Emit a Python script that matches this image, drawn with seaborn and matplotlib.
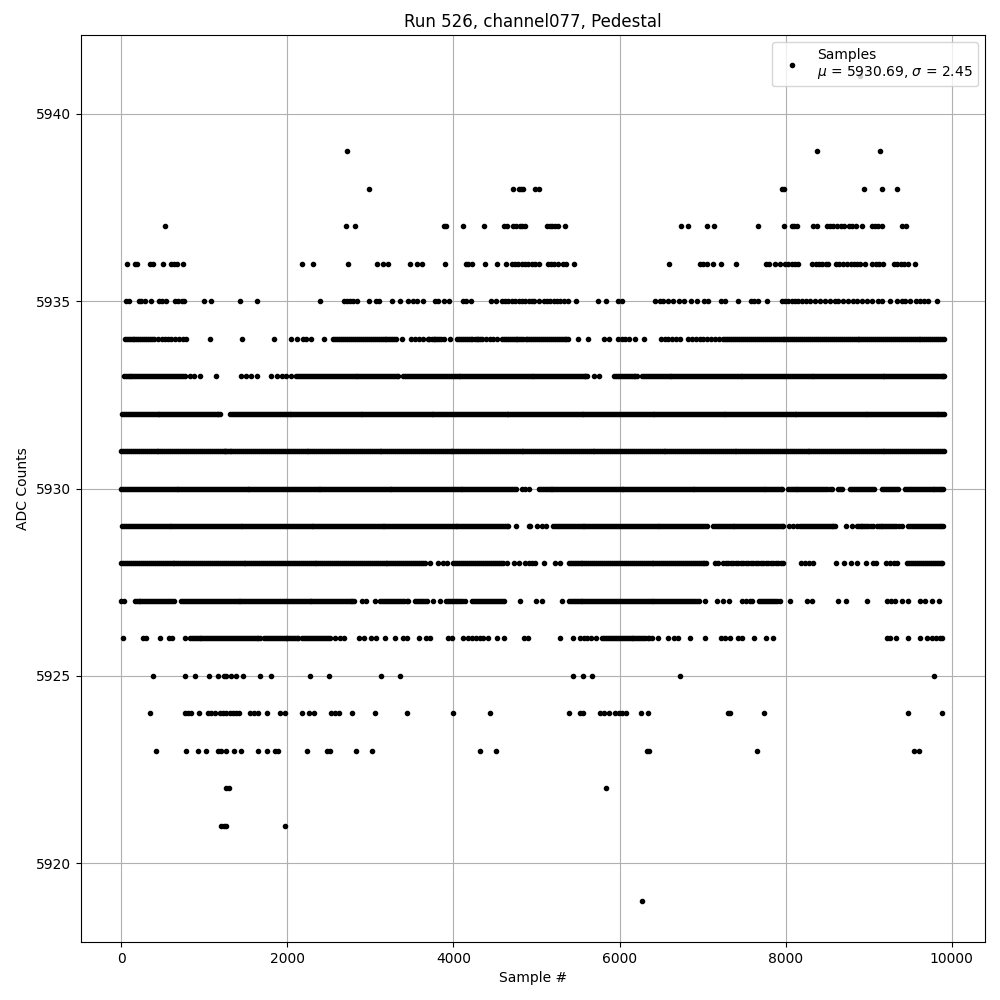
import matplotlib
matplotlib.use("Agg")
import matplotlib.pyplot as plt
import seaborn as sns
import pandas as pd

# sample numbers, one list per ADC level
s5941 = [8895]
s5939 = [2721, 8381, 9140]
s5938 = [2987, 4712, 4788, 4812, 4836, 4982, 5026, 7956, 7984, 8946, 9162, 9343]
s5937 = [527, 2710, 2818, 3884, 3912, 4121, 4374, 4611, 4643, 4716, 4748, 4796, 4828, 4860,
         5126, 5158, 5190, 5222, 5254, 5343, 6745, 6830, 7058, 7134, 7667, 7984, 8072, 8104, 8140,
         8325, 8373, 8493, 8533, 8573, 8621, 8661, 8701, 8757, 8797, 8846, 8922, 9034, 9074, 9114,
         9154, 9403, 9443]
s5936 = [68, 161, 193, 342, 382, 502, 603, 639, 671, 744, 2179, 2312, 2734, 3083, 3156, 3216,
         3481, 3566, 3626, 3903, 4149, 4181, 4221, 4386, 4519, 4627, 4700, 4740, 4780, 4820, 4860,
         4900, 4946, 4986, 5026, 5134, 5174, 5214, 5254, 5319, 5359, 5447, 6601, 6970, 7010, 7050,
         7130, 7226, 7407, 7760, 7796, 7868, 7932, 7992, 8032, 8072, 8112, 8152, 8321, 8361, 8401,
         8441, 8481, 8513, 8605, 8645, 8685, 8741, 8781, 8821, 8861, 8901, 8950, 9042, 9082, 9122,
         9174, 9302, 9343, 9383, 9423, 9471, 9559]
s5935 = [52, 88, 209, 241, 281, 358, 450, 490, 539, 647, 688, 728, 760, 997, 1081, 1431, 1636,
         2396, 2685, 2717, 2754, 2794, 2834, 2983, 3067, 3107, 3264, 3361, 3457, 3517, 3558, 3638,
         3779, 3815, 3887, 3948, 4121, 4153, 4209, 4454, 4510, 4583, 4623, 4663, 4703, 4744, 4784,
         4824, 4864, 4905, 4946, 4974, 5026, 5086, 5126, 5166, 5206, 5246, 5286, 5327, 5379, 5471,
         5735, 5832, 5980, 6028, 6421, 6489, 6529, 6581, 6641, 6721, 6782, 6866, 6930, 7022, 7070,
         7222, 7270, 7431, 7583, 7623, 7663, 7780, 7952, 7992, 8032, 8072, 8112, 8152, 8192, 8240,
         8293, 8353, 8413, 8473, 8533, 8593, 8633, 8685, 8753, 8814, 8862, 8914, 8974, 9034, 9114,
         9154, 9254, 9335, 9395, 9435, 9495, 9575, 9615, 9663, 9715, 9824]
s5934 = [40, 88, 137, 181, 232, 279, 326, 368, 400, 442, 491, 533, 563, 603, 651, 694, 742, 776,
         1069, 1455, 1841, 2046, 2118, 2191, 2223, 2287, 2444, 2553, 2601, 2648, 2699, 2741, 2793,
         2838, 2889, 2934, 2981, 3027, 3078, 3122, 3171, 3218, 3266, 3311, 3376, 3485, 3533, 3581,
         3630, 3690, 3739, 3784, 3832, 3881, 3960, 4040, 4088, 4136, 4183, 4229, 4278, 4322, 4342,
         4391, 4438, 4482, 4522, 4583, 4629, 4677, 4726, 4771, 4819, 4868, 4912, 4961, 5008, 5057,
         5103, 5151, 5198, 5247, 5293, 5341, 5379, 5495, 5623, 5816, 5876, 5980, 6024, 6068, 6108,
         6188, 6289, 6505, 6547, 6589, 6629, 6681, 6730, 6822, 6871, 6918, 6966, 7010, 7050, 7101,
         7148, 7202, 7250, 7298, 7344, 7392, 7441, 7486, 7535, 7583, 7629, 7678, 7724, 7772, 7821,
         7866, 7914, 7963, 8009, 8057, 8104, 8153, 8199, 8247, 8296, 8341, 8389, 8438, 8484, 8532,
         8581, 8627, 8674, 8723, 8769, 8817, 8866, 8912, 8959, 9008, 9054, 9101, 9149, 9196, 9244,
         9291, 9339, 9386, 9433, 9481, 9529, 9576, 9623, 9671, 9718, 9766, 9813, 9861, 9904]
s5933 = [30, 77, 124, 172, 219, 267, 314, 361, 409, 456, 504, 551, 598, 646, 693, 741, 770, 824,
         876, 945, 1142, 1443, 1507, 1568, 1636, 1809, 1881, 1930, 1990, 2050, 2110, 2157, 2206,
         2252, 2301, 2348, 2394, 2443, 2489, 2538, 2586, 2631, 2679, 2727, 2774, 2823, 2868, 2917,
         2964, 3012, 3059, 3107, 3154, 3201, 3249, 3296, 3337, 3397, 3444, 3493, 3539, 3588, 3634,
         3683, 3729, 3778, 3824, 3872, 3921, 3967, 4014, 4062, 4109, 4157, 4204, 4252, 4299, 4347,
         4394, 4442, 4489, 4536, 4584, 4631, 4679, 4726, 4774, 4821, 4869, 4916, 4963, 5011, 5058,
         5106, 5153, 5201, 5248, 5296, 5343, 5391, 5438, 5486, 5533, 5581, 5607, 5687, 5747, 5936,
         5983, 6031, 6078, 6126, 6173, 6208, 6269, 6317, 6364, 6412, 6459, 6507, 6554, 6602, 6649,
         6697, 6744, 6792, 6839, 6887, 6934, 6982, 7029, 7077, 7124, 7172, 7219, 7267, 7314, 7362,
         7409, 7457, 7504, 7552, 7599, 7647, 7694, 7742, 7789, 7837, 7884, 7932, 7979, 8027, 8074,
         8122, 8169, 8217, 8264, 8312, 8359, 8407, 8454, 8502, 8549, 8597, 8644, 8692, 8739, 8787,
         8834, 8882, 8929, 8977, 9024, 9072, 9119, 9167, 9214, 9262, 9309, 9357, 9404, 9452, 9499,
         9547, 9594, 9642, 9689, 9737, 9784, 9832, 9879, 9910]
s5932 = [12, 58, 107, 153, 201, 249, 294, 343, 389, 438, 484, 533, 579, 627, 674, 722, 769, 817,
         864, 912, 959, 1007, 1054, 1102, 1149, 1186, 1315, 1362, 1409, 1457, 1504, 1552, 1599,
         1647, 1694, 1742, 1789, 1837, 1884, 1932, 1979, 2027, 2074, 2122, 2169, 2217, 2264, 2312,
         2359, 2407, 2454, 2502, 2549, 2597, 2644, 2692, 2739, 2787, 2834, 2882, 2929, 2977, 3024,
         3072, 3119, 3167, 3214, 3262, 3309, 3357, 3404, 3452, 3499, 3547, 3594, 3642, 3689, 3737,
         3784, 3832, 3879, 3927, 3974, 4022, 4069, 4117, 4164, 4212, 4259, 4307, 4354, 4402, 4449,
         4497, 4544, 4592, 4639, 4687, 4734, 4782, 4829, 4877, 4924, 4972, 5019, 5067, 5114, 5162,
         5209, 5257, 5304, 5352, 5399, 5447, 5494, 5542, 5589, 5637, 5684, 5732, 5779, 5827, 5874,
         5922, 5969, 6017, 6064, 6112, 6159, 6207, 6254, 6302, 6349, 6397, 6444, 6492, 6539, 6587,
         6634, 6682, 6729, 6777, 6824, 6872, 6919, 6967, 7014, 7062, 7109, 7157, 7204, 7252, 7299,
         7347, 7394, 7442, 7489, 7537, 7584, 7632, 7679, 7727, 7774, 7822, 7869, 7917, 7964, 8012,
         8059, 8107, 8154, 8202, 8249, 8297, 8344, 8392, 8439, 8487, 8534, 8582, 8629, 8677, 8724,
         8772, 8819, 8867, 8914, 8962, 9009, 9057, 9104, 9152, 9199, 9247, 9294, 9342, 9389, 9437,
         9484, 9532, 9579, 9627, 9674, 9722, 9769, 9817, 9864, 9910]
s5931 = [0, 46, 95, 141, 189, 237, 282, 331, 377, 426, 472, 521, 567, 615, 662, 710, 757, 805,
         852, 900, 947, 995, 1042, 1090, 1137, 1185, 1232, 1262, 1305, 1352, 1400, 1447, 1495, 1542,
         1590, 1637, 1685, 1732, 1780, 1827, 1875, 1922, 1970, 2017, 2065, 2112, 2160, 2207, 2255,
         2302, 2350, 2397, 2445, 2492, 2540, 2587, 2635, 2682, 2730, 2777, 2825, 2872, 2920, 2967,
         3015, 3062, 3110, 3157, 3205, 3252, 3300, 3347, 3395, 3442, 3490, 3537, 3585, 3632, 3680,
         3727, 3775, 3822, 3870, 3917, 3965, 4012, 4060, 4107, 4155, 4202, 4250, 4297, 4345, 4392,
         4440, 4487, 4535, 4582, 4630, 4677, 4725, 4772, 4820, 4867, 4915, 4962, 5010, 5057, 5105,
         5152, 5200, 5247, 5295, 5342, 5390, 5437, 5485, 5532, 5580, 5627, 5675, 5722, 5770, 5817,
         5865, 5912, 5960, 6007, 6055, 6102, 6150, 6197, 6245, 6292, 6340, 6387, 6435, 6482, 6530,
         6577, 6625, 6672, 6720, 6767, 6815, 6862, 6910, 6957, 7005, 7052, 7100, 7147, 7195, 7242,
         7290, 7337, 7385, 7432, 7480, 7527, 7575, 7622, 7670, 7717, 7765, 7812, 7860, 7907, 7955,
         8002, 8050, 8097, 8145, 8192, 8240, 8287, 8335, 8382, 8430, 8477, 8525, 8572, 8620, 8667,
         8715, 8762, 8810, 8857, 8905, 8952, 9000, 9047, 9095, 9142, 9190, 9237, 9285, 9332, 9380,
         9427, 9475, 9522, 9570, 9617, 9665, 9712, 9760, 9807, 9855, 9910]
s5930 = [0, 48, 96, 143, 191, 238, 286, 333, 381, 428, 476, 523, 571, 618, 666, 713, 761, 808,
         856, 903, 951, 998, 1046, 1093, 1141, 1188, 1236, 1283, 1331, 1378, 1426, 1473, 1521, 1568,
         1616, 1663, 1711, 1758, 1806, 1853, 1901, 1948, 1996, 2043, 2091, 2138, 2186, 2233, 2281,
         2328, 2376, 2423, 2471, 2518, 2566, 2613, 2661, 2708, 2756, 2803, 2851, 2898, 2946, 2993,
         3041, 3088, 3136, 3183, 3231, 3278, 3326, 3373, 3421, 3468, 3516, 3563, 3611, 3658, 3706,
         3753, 3801, 3848, 3896, 3943, 3991, 4038, 4086, 4133, 4181, 4228, 4276, 4323, 4371, 4418,
         4466, 4513, 4561, 4608, 4656, 4703, 4748, 4826, 4866, 4906, 5026, 5074, 5121, 5169, 5216,
         5264, 5311, 5359, 5406, 5454, 5501, 5549, 5596, 5644, 5691, 5739, 5786, 5834, 5881, 5929,
         5976, 6024, 6071, 6119, 6166, 6214, 6261, 6309, 6356, 6404, 6451, 6499, 6546, 6594, 6641,
         6689, 6736, 6784, 6831, 6879, 6926, 6974, 7021, 7069, 7116, 7164, 7211, 7259, 7306, 7354,
         7401, 7449, 7496, 7544, 7591, 7639, 7686, 7734, 7781, 7829, 7876, 7924, 7952, 8024, 8071,
         8119, 8166, 8214, 8261, 8309, 8356, 8404, 8451, 8499, 8561, 8625, 8681, 8773, 8821, 8868,
         8916, 8963, 9011, 9066, 9158, 9206, 9253, 9301, 9355, 9435, 9483, 9530, 9578, 9625, 9673,
         9720, 9768, 9815, 9863, 9890]
s5929 = [12, 59, 107, 154, 202, 249, 297, 344, 392, 439, 487, 534, 582, 629, 677, 724, 772, 819,
         867, 914, 962, 1009, 1057, 1104, 1152, 1199, 1247, 1294, 1342, 1389, 1437, 1484, 1532, 1579,
         1627, 1674, 1722, 1769, 1817, 1864, 1912, 1959, 2007, 2054, 2102, 2149, 2197, 2244, 2292,
         2339, 2387, 2434, 2482, 2529, 2577, 2624, 2672, 2719, 2767, 2814, 2862, 2909, 2957, 3004,
         3052, 3099, 3147, 3194, 3242, 3289, 3337, 3384, 3432, 3479, 3527, 3574, 3622, 3669, 3717,
         3764, 3812, 3859, 3907, 3954, 4002, 4049, 4097, 4144, 4192, 4239, 4287, 4334, 4382, 4429,
         4477, 4524, 4572, 4619, 4660, 4748, 4905, 4918, 5006, 5062, 5118, 5198, 5246, 5293, 5341,
         5388, 5436, 5483, 5531, 5578, 5626, 5673, 5721, 5768, 5816, 5863, 5911, 5958, 6006, 6053,
         6101, 6148, 6196, 6243, 6291, 6338, 6386, 6433, 6481, 6528, 6576, 6623, 6671, 6718, 6766,
         6813, 6861, 6908, 6956, 7003, 7050, 7122, 7170, 7217, 7265, 7312, 7360, 7407, 7455, 7502,
         7550, 7597, 7645, 7692, 7740, 7787, 7835, 7882, 7930, 7972, 8044, 8084, 8140, 8172, 8220,
         8267, 8315, 8362, 8410, 8457, 8505, 8552, 8593, 8721, 8794, 8854, 8902, 8949, 8997, 9054,
         9094, 9142, 9189, 9237, 9284, 9332, 9395, 9475, 9523, 9570, 9618, 9665, 9713, 9760, 9808,
         9855, 9896]
s5928 = [0, 48, 95, 143, 190, 238, 285, 333, 380, 428, 475, 523, 570, 618, 665, 713, 760, 808,
         855, 903, 950, 998, 1045, 1093, 1140, 1188, 1235, 1283, 1330, 1378, 1425, 1473, 1520, 1568,
         1615, 1663, 1710, 1758, 1805, 1853, 1900, 1948, 1995, 2043, 2090, 2138, 2185, 2233, 2280,
         2328, 2375, 2423, 2470, 2518, 2565, 2613, 2660, 2708, 2755, 2803, 2850, 2898, 2945, 2993,
         3040, 3088, 3135, 3183, 3230, 3278, 3325, 3373, 3420, 3468, 3515, 3563, 3610, 3658, 3718,
         3819, 3879, 3928, 4000, 4048, 4095, 4143, 4190, 4238, 4285, 4333, 4380, 4428, 4475, 4523,
         4570, 4643, 4724, 4784, 4864, 4905, 4946, 4986, 5090, 5226, 5279, 5387, 5435, 5482, 5530,
         5577, 5625, 5672, 5720, 5767, 5815, 5862, 5910, 5957, 6005, 6052, 6100, 6147, 6195, 6242,
         6290, 6337, 6385, 6432, 6480, 6527, 6575, 6622, 6670, 6717, 6765, 6812, 6860, 6907, 6955,
         7002, 7042, 7150, 7190, 7250, 7310, 7370, 7430, 7490, 7550, 7610, 7670, 7730, 7790, 7850,
         7910, 7970, 8185, 8232, 8281, 8333, 8601, 8706, 8786, 8862, 8970, 9054, 9086, 9214, 9262,
         9309, 9343, 9463, 9511, 9558, 9606, 9653, 9701, 9748, 9796, 9843, 9888]
s5927 = [0, 28, 161, 209, 256, 304, 351, 399, 446, 494, 541, 589, 631, 724, 771, 819, 866, 914,
         961, 1009, 1056, 1104, 1151, 1199, 1246, 1294, 1341, 1389, 1436, 1484, 1531, 1579, 1626,
         1674, 1721, 1769, 1816, 1864, 1911, 1959, 2006, 2054, 2101, 2149, 2196, 2244, 2291, 2339,
         2386, 2434, 2481, 2529, 2576, 2624, 2671, 2719, 2766, 2802, 2894, 2950, 3059, 3115, 3163,
         3210, 3258, 3305, 3353, 3400, 3457, 3538, 3586, 3633, 3681, 3751, 3843, 3912, 3960, 4007,
         4055, 4100, 4137, 4229, 4277, 4324, 4372, 4419, 4467, 4514, 4562, 4603, 4796, 4998, 5066,
         5303, 5387, 5435, 5482, 5530, 5577, 5625, 5672, 5720, 5767, 5815, 5862, 5910, 5957, 6005,
         6052, 6100, 6147, 6195, 6242, 6290, 6337, 6385, 6432, 6480, 6527, 6575, 6622, 6670, 6717,
         6765, 6812, 6860, 6907, 6955, 7030, 7178, 7250, 7322, 7471, 7519, 7566, 7591, 7679, 7727,
         7774, 7822, 7869, 7932, 8056, 8261, 8313, 8633, 8725, 8982, 9226, 9274, 9315, 9403, 9475,
         9615, 9675, 9767, 9848]
s5926 = [20, 261, 301, 462, 571, 615, 768, 824, 871, 919, 966, 1014, 1061, 1109, 1156, 1204, 1251,
         1299, 1346, 1394, 1441, 1489, 1536, 1584, 1631, 1668, 1717, 1765, 1812, 1860, 1907, 1955,
         2002, 2050, 2097, 2131, 2179, 2227, 2274, 2322, 2369, 2417, 2464, 2512, 2573, 2633, 2685,
         2862, 2923, 3003, 3067, 3180, 3296, 3397, 3437, 3590, 3666, 3718, 3940, 3980, 4121, 4181,
         4229, 4276, 4324, 4362, 4414, 4523, 4603, 4844, 4898, 5279, 5435, 5519, 5567, 5614, 5662,
         5719, 5788, 5836, 5883, 5931, 5978, 6026, 6073, 6121, 6168, 6216, 6263, 6311, 6358, 6389,
         6469, 6589, 6657, 6709, 6850, 7030, 7222, 7270, 7331, 7431, 7471, 7623, 7760, 7852, 9226,
         9262, 9331, 9475, 9615, 9703, 9767, 9816, 9864, 9888]
s5925 = [382, 768, 888, 1057, 1166, 1234, 1258, 1323, 1383, 1467, 1672, 1805, 2275, 2504, 3131,
         3361, 5435, 5555, 5663, 6733, 9788]
s5924 = [346, 768, 808, 844, 937, 1045, 1085, 1126, 1186, 1226, 1266, 1306, 1347, 1387, 1419,
         1556, 1596, 1648, 1761, 1914, 1974, 2179, 2263, 2320, 2521, 2573, 2617, 2774, 3059, 3445,
         4000, 4446, 5387, 5527, 5555, 5760, 5808, 5868, 5940, 5988, 6028, 6080, 6257, 6337, 7311,
         7331, 7743, 9475, 9884]
s5923 = [418, 780, 925, 1021, 1166, 1206, 1258, 1363, 1443, 1648, 1757, 1849, 1889, 2239, 2480,
         2512, 2830, 3023, 4325, 4507, 6329, 6357, 7659, 9551, 9611]
s5922 = [1266, 1294, 5832]
s5921 = [1206, 1234, 1258, 1978]
s5919 = [6265]

# more samples inside the solid runs, where single dots can't be told apart
fill5934 = [64, 112, 159, 207, 255, 303, 347, 2577, 2625, 2673, 2720, 2767, 2815, 2864, 2911,
            2958, 3004, 3052, 3100, 3147, 3194, 3242, 3289, 3709, 3761, 3808, 3856, 4064, 4112,
            4160, 4206, 4254, 4300, 4607, 4653, 4701, 4749, 4795, 4843, 4890, 4937, 4985, 5032,
            5080, 5127, 5175, 5222, 5270, 5317, 5360, 7274, 7321, 7368, 7416, 7464, 7510, 7559,
            7606, 7653, 7701, 7748, 7797, 7843, 7890, 7938, 7986, 8033, 8080, 8128, 8176, 8223,
            8271, 8318, 8365, 8413, 8461, 8508, 8556, 8604, 8650, 8698, 8746, 8793, 8841, 8889,
            8935, 8983, 9031, 9078, 9125, 9172, 9220, 9268, 9315, 9362, 9410, 9457, 9505, 9552,
            9600, 9647, 9694, 9742, 9790, 9837, 9883]
fill5933 = [54, 100, 148, 195, 243, 290, 338, 385, 432, 480, 527, 575, 622, 669, 717, 2133, 2181,
            2229, 2276, 2324, 2371, 2418, 2466, 2513, 2562, 2608, 2655, 2703, 2750, 2798, 2845,
            2892, 2940, 2988, 3035, 3083, 3130, 3177, 3225, 3272, 3318, 3420, 3468, 3516, 3563,
            3611, 3658, 3706, 3753, 3801, 3848, 3896, 3943, 3990, 4038, 4085, 4133, 4180, 4228,
            4275, 4323, 4370, 4418, 4465, 4512, 4560, 4607, 4655, 4702, 4750, 4797, 4845, 4892,
            4940, 4987, 5034, 5082, 5129, 5177, 5224, 5272, 5319, 5367, 5414, 5462, 5509, 5557,
            5590, 5960, 6007, 6054, 6102, 6150, 6190, 6293, 6340, 6388, 6435, 6483, 6530, 6578,
            6625, 6673, 6720, 6768, 6815, 6863, 6910, 6958, 7005, 7053, 7100, 7148, 7195, 7243,
            7290, 7338, 7385, 7433, 7480, 7528, 7575, 7623, 7670, 7718, 7765, 7813, 7860, 7908,
            7955, 8003, 8050, 8098, 8145, 8193, 8240, 8288, 8335, 8383, 8430, 8478, 8525, 8573,
            8620, 8668, 8715, 8763, 8810, 8858, 8905, 8953, 9000, 9048, 9095, 9143, 9190, 9238,
            9285, 9333, 9380, 9428, 9475, 9523, 9570, 9618, 9665, 9713, 9760, 9808, 9855, 9895]
fill5932 = [35, 82, 130, 177, 225, 271, 318, 366, 413, 461, 508, 556, 603, 650, 698, 745, 793,
            840, 888, 935, 983, 1030, 1078, 1125, 1170, 1338, 1385, 1433, 1480, 1528, 1575, 1623,
            1670, 1718, 1765, 1813, 1860, 1908, 1955, 2003, 2050, 2098, 2145, 2193, 2240, 2288,
            2335, 2383, 2430, 2478, 2525, 2573, 2620, 2668, 2715, 2763, 2810, 2858, 2905, 2953,
            3000, 3048, 3095, 3143, 3190, 3238, 3285, 3333, 3380, 3428, 3475, 3523, 3570, 3618,
            3665, 3713, 3760, 3808, 3855, 3903, 3950, 3998, 4045, 4093, 4140, 4188, 4235, 4283,
            4330, 4378, 4425, 4473, 4520, 4568, 4615, 4663, 4710, 4758, 4805, 4853, 4900, 4948,
            4995, 5043, 5090, 5138, 5185, 5233, 5280, 5328, 5375, 5423, 5470, 5518, 5565, 5613,
            5660, 5708, 5755, 5803, 5850, 5898, 5945, 5993, 6040, 6088, 6135, 6183, 6230, 6278,
            6325, 6373, 6420, 6468, 6515, 6563, 6610, 6658, 6705, 6753, 6800, 6848, 6895, 6943,
            6990, 7038, 7085, 7133, 7180, 7228, 7275, 7323, 7370, 7418, 7465, 7513, 7560, 7608,
            7655, 7703, 7750, 7798, 7845, 7893, 7940, 7988, 8035, 8083, 8130, 8178, 8225, 8273,
            8320, 8368, 8415, 8463, 8510, 8558, 8605, 8653, 8700, 8748, 8795, 8843, 8890, 8938,
            8985, 9033, 9080, 9128, 9175, 9223, 9270, 9318, 9365, 9413, 9460, 9508, 9555, 9603,
            9650, 9698, 9745, 9793, 9840, 9888]
fill5931 = [23, 70, 118, 165, 213, 259, 306, 354, 401, 449, 496, 544, 591, 638, 686, 733, 781,
            828, 876, 923, 971, 1018, 1066, 1113, 1161, 1208, 1247, 1284, 1328, 1376, 1423, 1471,
            1518, 1566, 1613, 1661, 1708, 1756, 1803, 1851, 1898, 1946, 1993, 2041, 2088, 2136,
            2183, 2231, 2278, 2326, 2373, 2421, 2468, 2516, 2563, 2611, 2658, 2706, 2753, 2801,
            2848, 2896, 2943, 2991, 3038, 3086, 3133, 3181, 3228, 3276, 3323, 3371, 3418, 3466,
            3513, 3561, 3608, 3656, 3703, 3751, 3798, 3846, 3893, 3941, 3988, 4036, 4083, 4131,
            4178, 4226, 4273, 4321, 4368, 4416, 4463, 4511, 4558, 4606, 4653, 4701, 4748, 4796,
            4843, 4891, 4938, 4986, 5033, 5081, 5128, 5176, 5223, 5271, 5318, 5366, 5413, 5461,
            5508, 5556, 5603, 5651, 5698, 5746, 5793, 5841, 5888, 5936, 5983, 6031, 6078, 6126,
            6173, 6221, 6268, 6316, 6363, 6411, 6458, 6506, 6553, 6601, 6648, 6696, 6743, 6791,
            6838, 6886, 6933, 6981, 7028, 7076, 7123, 7171, 7218, 7266, 7313, 7361, 7408, 7456,
            7503, 7551, 7598, 7646, 7693, 7741, 7788, 7836, 7883, 7931, 7978, 8026, 8073, 8121,
            8168, 8216, 8263, 8311, 8358, 8406, 8453, 8501, 8548, 8596, 8643, 8691, 8738, 8786,
            8833, 8881, 8928, 8976, 9023, 9071, 9118, 9166, 9213, 9261, 9308, 9356, 9403, 9451,
            9498, 9546, 9593, 9641, 9688, 9736, 9783, 9831, 9883]
fill5930 = [24, 72, 119, 167, 214, 262, 309, 357, 404, 452, 499, 547, 594, 642, 689, 737, 784,
            832, 879, 927, 974, 1022, 1069, 1117, 1164, 1212, 1259, 1307, 1354, 1402, 1449, 1497,
            1544, 1592, 1639, 1687, 1734, 1782, 1829, 1877, 1924, 1972, 2019, 2067, 2114, 2162,
            2209, 2257, 2304, 2352, 2399, 2447, 2494, 2542, 2589, 2637, 2684, 2732, 2779, 2827,
            2874, 2922, 2969, 3017, 3064, 3112, 3159, 3207, 3254, 3302, 3349, 3397, 3444, 3492,
            3539, 3587, 3634, 3682, 3729, 3777, 3824, 3872, 3919, 3967, 4014, 4062, 4109, 4157,
            4204, 4252, 4299, 4347, 4394, 4442, 4489, 4537, 4584, 4632, 4679, 4725, 5050, 5097,
            5145, 5192, 5240, 5287, 5335, 5382, 5430, 5477, 5525, 5572, 5620, 5667, 5715, 5762,
            5810, 5857, 5905, 5952, 6000, 6047, 6095, 6142, 6190, 6237, 6285, 6332, 6380, 6427,
            6475, 6522, 6570, 6617, 6665, 6712, 6760, 6807, 6855, 6902, 6950, 6997, 7045, 7092,
            7140, 7187, 7235, 7282, 7330, 7377, 7425, 7472, 7520, 7567, 7615, 7662, 7710, 7757,
            7805, 7852, 7900, 7940, 8047, 8095, 8142, 8190, 8237, 8285, 8332, 8380, 8427, 8475,
            8530, 8653, 8797, 8844, 8892, 8939, 8987, 9040, 9182, 9229, 9277, 9328, 9459, 9506,
            9554, 9601, 9649, 9696, 9744, 9791, 9839, 9876]
fill5929 = [35, 83, 130, 178, 225, 273, 320, 368, 415, 463, 510, 558, 605, 653, 700, 748, 795,
            843, 890, 938, 985, 1033, 1080, 1128, 1175, 1223, 1270, 1318, 1365, 1413, 1460, 1508,
            1555, 1603, 1650, 1698, 1745, 1793, 1840, 1888, 1935, 1983, 2030, 2078, 2125, 2173,
            2220, 2268, 2315, 2363, 2410, 2458, 2505, 2553, 2600, 2648, 2695, 2743, 2790, 2838,
            2885, 2933, 2980, 3028, 3075, 3123, 3170, 3218, 3265, 3313, 3360, 3408, 3455, 3503,
            3550, 3598, 3645, 3693, 3740, 3788, 3835, 3883, 3930, 3978, 4025, 4073, 4120, 4168,
            4215, 4263, 4310, 4358, 4405, 4453, 4500, 4548, 4595, 4640, 5222, 5269, 5317, 5364,
            5412, 5459, 5507, 5554, 5602, 5649, 5697, 5744, 5792, 5839, 5887, 5934, 5982, 6029,
            6077, 6124, 6172, 6219, 6267, 6314, 6362, 6409, 6457, 6504, 6552, 6599, 6647, 6694,
            6742, 6789, 6837, 6884, 6932, 6979, 7030, 7146, 7193, 7241, 7288, 7336, 7383, 7431,
            7478, 7526, 7573, 7621, 7668, 7716, 7763, 7811, 7858, 7906, 7950, 8196, 8243, 8291,
            8338, 8386, 8433, 8481, 8528, 8570, 8878, 8925, 8973, 9030, 9118, 9165, 9213, 9260,
            9308, 9370, 9499, 9546, 9594, 9641, 9689, 9736, 9784, 9831, 9875]
fill5928 = [24, 71, 119, 166, 214, 261, 309, 356, 404, 451, 499, 546, 594, 641, 689, 736, 784,
            831, 879, 926, 974, 1021, 1069, 1116, 1164, 1211, 1259, 1306, 1354, 1401, 1449, 1496,
            1544, 1591, 1639, 1686, 1734, 1781, 1829, 1876, 1924, 1971, 2019, 2066, 2114, 2161,
            2209, 2256, 2304, 2351, 2399, 2446, 2494, 2541, 2589, 2636, 2684, 2731, 2779, 2826,
            2874, 2921, 2969, 3016, 3064, 3111, 3159, 3206, 3254, 3301, 3349, 3396, 3444, 3491,
            3539, 3586, 3634, 4024, 4072, 4119, 4167, 4214, 4262, 4309, 4357, 4404, 4452, 4499,
            4547, 4600, 5411, 5458, 5506, 5553, 5601, 5648, 5696, 5743, 5791, 5838, 5886, 5933,
            5981, 6028, 6076, 6123, 6171, 6218, 6266, 6313, 6361, 6408, 6456, 6503, 6551, 6598,
            6646, 6693, 6741, 6788, 6836, 6883, 6931, 6978, 7020, 7280, 7340, 7400, 7460, 7520,
            7580, 7640, 7700, 7760, 7820, 7880, 7940, 9487, 9534, 9582, 9629, 9677, 9724, 9772,
            9819, 9866]
fill5927 = [185, 232, 280, 327, 375, 422, 470, 517, 565, 610, 748, 795, 843, 890, 938, 985, 1033,
            1080, 1128, 1175, 1223, 1270, 1318, 1365, 1413, 1460, 1508, 1555, 1603, 1650, 1698,
            1745, 1793, 1840, 1888, 1935, 1983, 2030, 2078, 2125, 2173, 2220, 2268, 2315, 2363,
            2410, 2458, 2505, 2553, 2600, 2648, 2695, 2743, 2780, 3139, 3187, 3234, 3282, 3329,
            3377, 3435, 3562, 3610, 3660, 3936, 3984, 4031, 4080, 4253, 4300, 4348, 4395, 4443,
            4490, 4538, 4590, 5411, 5458, 5506, 5553, 5601, 5648, 5696, 5743, 5791, 5838, 5886,
            5933, 5981, 6028, 6076, 6123, 6171, 6218, 6266, 6313, 6361, 6408, 6456, 6503, 6551,
            6598, 6646, 6693, 6741, 6788, 6836, 6883, 6930, 7703, 7750, 7798, 7845, 7900]
fill5926 = [848, 895, 943, 990, 1038, 1085, 1133, 1180, 1228, 1275, 1323, 1370, 1418, 1465, 1513,
            1560, 1608, 1650, 1741, 1789, 1836, 1884, 1931, 1979, 2026, 2074, 2120, 2203, 2251,
            2298, 2346, 2393, 2441, 2490, 5812, 5860, 5907, 5955, 6002, 6050, 6097, 6145, 6192,
            6240, 6287, 6340]

levels = {5941: s5941, 5939: s5939, 5938: s5938, 5937: s5937, 5936: s5936, 5935: s5935,
          5934: s5934 + fill5934, 5933: s5933 + fill5933, 5932: s5932 + fill5932,
          5931: s5931 + fill5931, 5930: s5930 + fill5930, 5929: s5929 + fill5929,
          5928: s5928 + fill5928, 5927: s5927 + fill5927, 5926: s5926 + fill5926,
          5925: s5925, 5924: s5924, 5923: s5923, 5922: s5922, 5921: s5921, 5919: s5919}

rows = []
for adc, samples in levels.items():
    for s in samples:
        rows.append((s, adc))
df = pd.DataFrame(rows, columns=['sample', 'adc'])

fig, ax = plt.subplots(figsize=(10, 10), dpi=100)
sns.lineplot(
    data=df, x='sample', y='adc', ax=ax,
    estimator=None, sort=False, errorbar=None,
    linestyle='', marker='.', color='black',
    markersize=6, markeredgewidth=1, markeredgecolor='black',
    label='Samples\n$\\mu$ = 5930.69, $\\sigma$ = 2.45'
)

ax.set_xlim(-490, 10400)
ax.set_ylim(5917.9, 5942.1)
ax.set_title('Run 526, channel077, Pedestal')
ax.set_xlabel('Sample #')
ax.set_ylabel('ADC Counts')
ax.grid(True)
ax.legend(loc='upper right')

fig.subplots_adjust(left=0.0805, right=0.985, top=0.965, bottom=0.058)
plt.savefig('out.png', dpi=100)
